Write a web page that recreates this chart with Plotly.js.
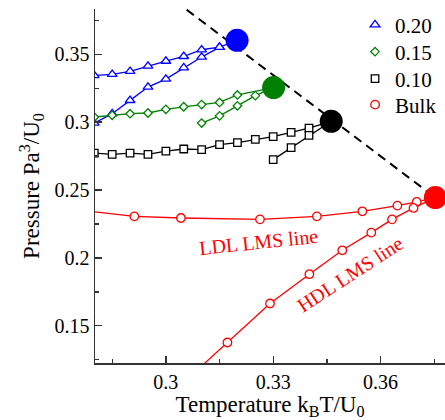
<!DOCTYPE html>
<html>
<head>
<meta charset="utf-8">
<script src="https://cdn.plot.ly/plotly-3.0.1.min.js"></script>
<style>html,body{margin:0;padding:0;background:#fff;}#chart{width:445px;height:420px;}</style>
</head>
<body>
<div id="chart"></div>
<script>
// ---- data ----
const blueUpperT = [0.280, 0.285, 0.290, 0.295, 0.300, 0.305, 0.310, 0.315, 0.3199];
const blueUpperP = [0.3344, 0.3352, 0.3374, 0.3413, 0.3449, 0.3484, 0.3533, 0.3552, 0.3602];
const blueLowerT = [0.280, 0.285, 0.290, 0.295, 0.300, 0.305, 0.310, 0.315];
const blueLowerP = [0.2993, 0.3062, 0.3160, 0.3258, 0.3317, 0.3401, 0.3479, 0.3552];

const greenUpperT = [0.280, 0.285, 0.290, 0.295, 0.300, 0.305, 0.310, 0.315, 0.320, 0.3301];
const greenUpperP = [0.3037, 0.3050, 0.3062, 0.3067, 0.3094, 0.3113, 0.3129, 0.3145, 0.3200, 0.3254];
const greenLowerT = [0.310, 0.315, 0.320, 0.325, 0.3301];
const greenLowerP = [0.2993, 0.3046, 0.3120, 0.3195, 0.3254];

const blackUpperT = [0.280, 0.285, 0.290, 0.295, 0.300, 0.305, 0.310, 0.315, 0.320, 0.325, 0.330, 0.335, 0.340, 0.3462];
const blackUpperP = [0.2772, 0.2763, 0.2772, 0.2763, 0.2787, 0.2802, 0.2797, 0.2834, 0.2849, 0.2873, 0.2893, 0.2925, 0.2956, 0.3006];
const blackLowerT = [0.330, 0.335, 0.340, 0.3462];
const blackLowerP = [0.2724, 0.2812, 0.2903, 0.3006];

const ldlT = [0.275, 0.2912, 0.3042, 0.3263, 0.3422, 0.3549, 0.3647, 0.3701, 0.3753];
const ldlP = [0.2355, 0.2306, 0.2294, 0.2284, 0.2306, 0.2343, 0.2385, 0.2412, 0.2444];
const hdlT = [0.305, 0.3172, 0.3291, 0.3401, 0.3493, 0.3574, 0.3632, 0.3692, 0.3753];
const hdlP = [0.1083, 0.1377, 0.1664, 0.1880, 0.2056, 0.2186, 0.2284, 0.2368, 0.2444];

const criticalT = [0.3199, 0.3301, 0.3462, 0.3753];
const criticalP = [0.3602, 0.3254, 0.3006, 0.2444];
const criticalColors = ['#0000ff', '#008000', '#000000', '#ff0000'];

const dashT = [0.3058, 0.3753];
const dashP = [0.3828, 0.2444];

const seriesNames = ['0.20', '0.15', '0.10', 'Bulk'];
const xTicks = [0.3, 0.33, 0.36];
const yTicks = [0.15, 0.2, 0.25, 0.3, 0.35];

// ---- styling ----
const FONT = 'Liberation Serif, Times New Roman, serif';
const styles = [
  {color: '#0000ff', symbol: 'triangle-up', size: 8.5},
  {color: '#008000', symbol: 'diamond', size: 6.5},
  {color: '#000000', symbol: 'square', size: 7.5},
  {color: '#ff0000', symbol: 'circle', size: 8.5}
];
function branch(x, y, s) {
  return {x: x, y: y, type: 'scatter', mode: 'lines+markers', showlegend: false,
    line: {color: s.color, width: 1.3},
    marker: {symbol: s.symbol, size: s.size, color: '#ffffff', line: {color: s.color, width: 1.3}},
    hoverinfo: 'skip'};
}
const traces = [];
traces.push({x: dashT, y: dashP, type: 'scatter', mode: 'lines', showlegend: false,
  line: {color: '#000000', width: 2, dash: '9px,6px'}});
traces.push(branch(blueUpperT, blueUpperP, styles[0]));
traces.push(branch(blueLowerT, blueLowerP, styles[0]));
traces.push(branch(greenUpperT, greenUpperP, styles[1]));
traces.push(branch(greenLowerT, greenLowerP, styles[1]));
traces.push(branch(blackUpperT, blackUpperP, styles[2]));
traces.push(branch(blackLowerT, blackLowerP, styles[2]));
traces.push(branch(ldlT, ldlP, styles[3]));
traces.push(branch(hdlT, hdlP, styles[3]));
traces.push({x: criticalT, y: criticalP, type: 'scatter', mode: 'markers', showlegend: false,
  marker: {size: 23, color: criticalColors, line: {width: 0}}});

// legend entries (markers only), one small legend per row
const legendIds = ['legend', 'legend2', 'legend3', 'legend4'];
const legendRowY = [0.9548, 0.8785, 0.8023, 0.7288];
seriesNames.forEach((n, i) => {
  traces.push({x: [null], y: [null], type: 'scatter', mode: 'markers', name: n, showlegend: true,
    legend: legendIds[i],
    marker: {symbol: styles[i].symbol, size: styles[i].size, color: '#ffffff',
      line: {color: styles[i].color, width: 1.3}}});
});

const layout = {
  width: 445, height: 420,
  margin: {l: 95, r: 0, t: 9, b: 57, pad: 0},
  paper_bgcolor: '#ffffff', plot_bgcolor: '#ffffff',
  font: {family: FONT, size: 20, color: '#000'},
  showlegend: true,
  xaxis: {
    range: [0.2802, 0.3780], tickvals: xTicks, ticktext: xTicks.map(String),
    ticks: 'inside', ticklen: 7, tickwidth: 1.3, tickcolor: '#333',
    minor: {dtick: 0.015, tick0: 0.285, ticks: 'inside', ticklen: 4, tickwidth: 1.3, tickcolor: '#333'},
    showline: true, linecolor: '#333', linewidth: 1.5, mirror: false,
    showgrid: false, zeroline: false,
    tickfont: {family: FONT, size: 20, color: '#000'},
    title: {text: 'Temperature k<sub>B</sub>T/U<sub>0</sub>', font: {family: FONT, size: 23, color: '#000'}, standoff: 6}
  },
  yaxis: {
    range: [0.1226, 0.3833], tickvals: yTicks, ticktext: yTicks.map(String),
    ticks: 'inside', ticklen: 7, tickwidth: 1.3, tickcolor: '#333',
    minor: {dtick: 0.025, tick0: 0.125, ticks: 'inside', ticklen: 4, tickwidth: 1.3, tickcolor: '#333'},
    showline: true, linecolor: '#333', linewidth: 1.5, mirror: false,
    showgrid: false, zeroline: false,
    tickfont: {family: FONT, size: 20, color: '#000'},
    title: {text: 'Pressure Pa<sup>3</sup>/U<sub>0</sub>', font: {family: FONT, size: 23, color: '#000'}, standoff: 8}
  },
  annotations: [
    {x: 0.3258, y: 0.2117, xref: 'x', yref: 'y', text: 'LDL LMS line', showarrow: false,
      textangle: -6, font: {family: FONT, size: 20, color: '#ff0000'}},
    {x: 0.3515, y: 0.1885, xref: 'x', yref: 'y', text: 'HDL LMS line', showarrow: false,
      textangle: -33, font: {family: FONT, size: 20, color: '#ff0000'}}
  ]
};
legendIds.forEach((id, i) => {
  layout[id] = {x: 0.743, y: legendRowY[i], xanchor: 'left', yanchor: 'middle',
    bgcolor: 'rgba(0,0,0,0)', borderwidth: 0,
    font: {family: FONT, size: 21, color: '#000'}};
});
Plotly.newPlot('chart', traces, layout, {displayModeBar: false, staticPlot: true});
</script>
</body>
</html>
